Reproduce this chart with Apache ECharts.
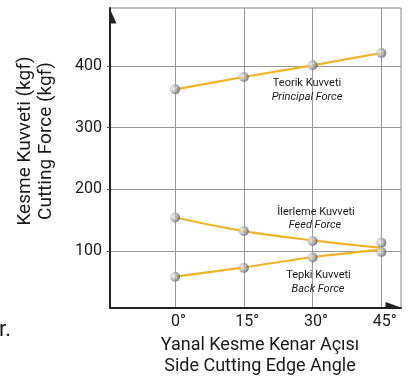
<!DOCTYPE html>
<html><head><meta charset="utf-8">
<script src="https://cdn.jsdelivr.net/npm/echarts@6/dist/echarts.min.js"></script>
<style>html,body{margin:0;padding:0;background:#fff}#c{width:417px;height:379px}</style>
</head><body><div id="c"></div>
<script>
// Side cutting edge angle (degrees)
const angles = [0, 15, 30, 45];
const xTicks = [0, 15, 30, 45];
const yTicks = [100, 200, 300, 400];
// Measured points (kgf)
const principalPoints = [362, 382, 401, 421];
const feedPoints = [154, 132, 116, 113];
const backPoints = [58, 72, 89, 98];
// Fitted curves (kgf)
const principalLine = [362, 382, 401, 421];
const feedLine = [154, 132, 117, 105];
const backLine = [58, 73, 90, 102];

const pairs = (ys) => angles.map((a, i) => [a, ys[i]]);
const FONT = 'Roboto';
const lineColor = '#F0B429';
const markerStyle = {
  color: {
    type: 'radial', x: 0.3, y: 0.4, r: 0.75,
    colorStops: [
      { offset: 0, color: '#eeeeee' },
      { offset: 0.5, color: '#b0b0b0' },
      { offset: 1, color: '#4a4a4a' }
    ]
  }
};

function lineSeries(ys, smooth) {
  return {
    type: 'line', data: pairs(ys), smooth: smooth, showSymbol: false,
    lineStyle: { color: lineColor, width: 2.2 }, z: 2, silent: true
  };
}
function pointSeries(ys) {
  return {
    type: 'scatter', data: pairs(ys), symbolSize: 10,
    itemStyle: markerStyle, z: 3, silent: true
  };
}

const chart = echarts.init(document.getElementById('c'), null, { renderer: 'canvas' });
chart.setOption({
  animation: false,
  backgroundColor: '#fff',
  grid: { left: 110, right: 16, top: 8, bottom: 71.5, show: true, borderColor: '#888', borderWidth: 1 },
  xAxis: {
    type: 'value', min: -14.2, max: 49.3,
    axisLine: { show: true, onZero: false, lineStyle: { color: '#222', width: 2 } },
    axisTick: { show: false, customValues: xTicks },
    axisLabel: { customValues: xTicks, formatter: '{value}°', fontFamily: FONT, fontSize: 16, color: '#1a1a1a', margin: 6, padding: [0, 0, 0, 7] },
    splitLine: { show: true, lineStyle: { color: '#999', width: 1 } }
  },
  yAxis: {
    type: 'value', min: 8, max: 494,
    axisLine: { show: true, onZero: false, lineStyle: { color: '#222', width: 2 } },
    axisTick: { show: true, length: 3, customValues: yTicks, lineStyle: { color: '#444' } },
    axisLabel: { customValues: yTicks, fontFamily: FONT, fontSize: 16, color: '#1a1a1a', margin: 8 },
    splitLine: { show: true, lineStyle: { color: '#999', width: 1 } }
  },
  series: [
    lineSeries(principalLine, 0.2),
    lineSeries(feedLine, 0.4),
    lineSeries(backLine, 0.2),
    pointSeries(principalPoints),
    pointSeries(feedPoints),
    pointSeries(backPoints)
  ],
  graphic: [
    { type: 'polygon', shape: { points: [[110, 9], [116.5, 23.5], [110, 23.5]] }, style: { fill: '#222' }, z: 10 },
    { type: 'polygon', shape: { points: [[385.5, 302], [401, 307.5], [385.5, 307.5]] }, style: { fill: '#222' }, z: 10 },
    { type: 'text', x: 307, y: 83, style: { text: 'Teorik Kuvveti', font: '11px Roboto', fill: '#1a1a1a', align: 'center', verticalAlign: 'middle' }, z: 10 },
    { type: 'text', x: 307, y: 97, style: { text: 'Principal Force', font: 'italic 11px Roboto', fill: '#1a1a1a', align: 'center', verticalAlign: 'middle' }, z: 10 },
    { type: 'text', x: 316, y: 212.5, style: { text: 'İlerleme Kuvveti', font: '11px Roboto', fill: '#1a1a1a', align: 'center', verticalAlign: 'middle' }, z: 10 },
    { type: 'text', x: 315, y: 225.5, style: { text: 'Feed Force', font: 'italic 11px Roboto', fill: '#1a1a1a', align: 'center', verticalAlign: 'middle' }, z: 10 },
    { type: 'text', x: 318.5, y: 275.5, style: { text: 'Tepki Kuvveti', font: '11px Roboto', fill: '#1a1a1a', align: 'center', verticalAlign: 'middle' }, z: 10 },
    { type: 'text', x: 318, y: 289, style: { text: 'Back Force', font: 'italic 11px Roboto', fill: '#1a1a1a', align: 'center', verticalAlign: 'middle' }, z: 10 },
    { type: 'text', x: 260, y: 345, style: { text: 'Yanal Kesme Kenar Açısı', font: '18px Roboto', fill: '#1a1a1a', align: 'center', verticalAlign: 'middle' }, z: 10 },
    { type: 'text', x: 260, y: 366, style: { text: 'Side Cutting Edge Angle', font: '18px Roboto', fill: '#1a1a1a', align: 'center', verticalAlign: 'middle' }, z: 10 },
    { type: 'text', x: 25.5, y: 141, rotation: Math.PI / 2, style: { text: 'Kesme Kuvveti (kgf)', font: '19px Roboto', fill: '#1a1a1a', align: 'center', verticalAlign: 'middle' }, z: 10 },
    { type: 'text', x: 46, y: 141, rotation: Math.PI / 2, style: { text: 'Cutting Force (kgf)', font: '19px Roboto', fill: '#1a1a1a', align: 'center', verticalAlign: 'middle' }, z: 10 },
    { type: 'text', x: -1, y: 330, style: { text: 'r.', font: '22px Roboto', fill: '#1a1a1a', align: 'left', verticalAlign: 'middle' }, z: 10 }
  ]
});
</script></body></html>
